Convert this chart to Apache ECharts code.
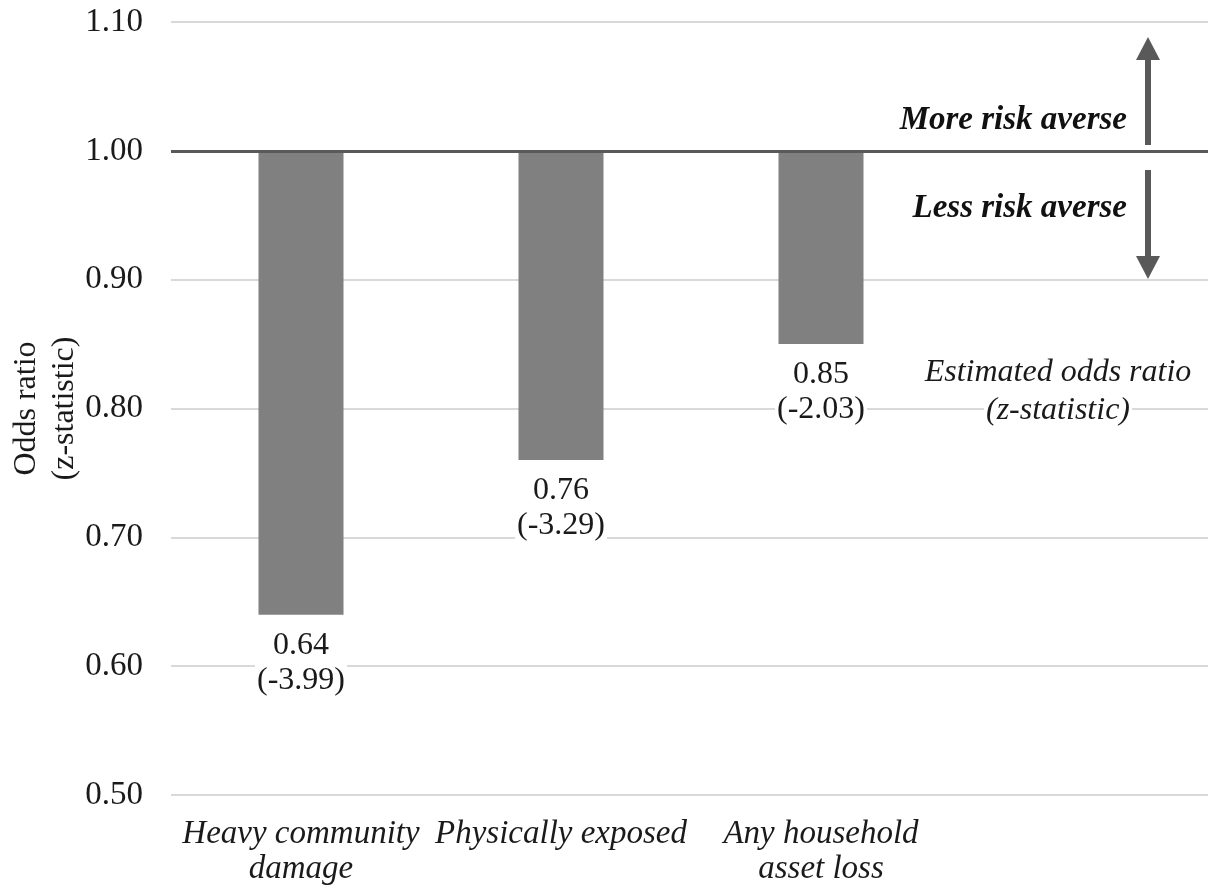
<!DOCTYPE html>
<html>
<head>
<meta charset="utf-8">
<title>Odds ratio by disaster exposure</title>
<script src="https://cdn.jsdelivr.net/npm/echarts@6/dist/echarts.min.js"></script>
<style>
  html, body { margin: 0; padding: 0; background: #ffffff; }
  #chart { width: 1208px; height: 886px; }
</style>
</head>
<body>
<div id="chart"></div>
<script>
// Exposure measures (fourth slot holds the annotation key)
const categories = ['Heavy community\ndamage', 'Physically exposed', 'Any household\nasset loss', ''];
// Estimated odds ratios and their z-statistics
const oddsRatios = [0.64, 0.76, 0.85];
const zStats = [-3.99, -3.29, -2.03];
// Odds ratio of 1 = no change in risk aversion
const baseline = 1.0;
const yTickLabels = ['0.50', '0.60', '0.70', '0.80', '0.90', '1.00', '1.10'];

const SERIF = "'Liberation Serif', 'Times New Roman', serif";
const chart = echarts.init(document.getElementById('chart'), null, { renderer: 'canvas' });

const barData = oddsRatios.map((v, i) => [i, v, zStats[i]]);

chart.setOption({
  animation: false,
  backgroundColor: '#ffffff',
  grid: { left: 171, right: -3, top: 22, bottom: 91, containLabel: false, outerBoundsMode: 'none' },
  xAxis: {
    type: 'category',
    data: categories,
    axisLine: { show: false },
    axisTick: { show: false },
    splitLine: { show: false },
    axisLabel: {
      interval: 0,
      margin: 22,
      color: '#1a1a1a',
      fontFamily: SERIF,
      fontStyle: 'italic',
      fontSize: 33,
      lineHeight: 35
    }
  },
  yAxis: {
    type: 'value',
    min: 0.5,
    max: 1.1,
    interval: 0.1,
    name: 'Odds ratio\n(z-statistic)',
    nameLocation: 'middle',
    nameRotate: 90,
    nameGap: 87,
    nameMoveOverlap: false,
    nameTextStyle: { fontFamily: SERIF, fontSize: 32, lineHeight: 38, color: '#1a1a1a' },
    axisLine: { show: false },
    axisTick: { show: false },
    axisLabel: {
      margin: 28,
      color: '#1a1a1a',
      fontFamily: SERIF,
      fontSize: 33,
      formatter: (v) => yTickLabels[Math.round((v - 0.5) * 10)] || v.toFixed(2)
    },
    splitLine: { show: true, lineStyle: { color: '#d9d9d9', width: 2 } }
  },
  series: [{
    type: 'custom',
    data: barData,
    encode: { x: 0, y: 1 },
    renderItem: function (params, api) {
      const i = api.value(0);
      const v = api.value(1);
      const z = api.value(2);
      const top = api.coord([i, baseline]);
      const bot = api.coord([i, v]);
      const w = api.size([1, 0])[0] * 0.327;
      const labelStyle = {
        fill: '#1a1a1a',
        fontFamily: SERIF,
        fontSize: 32,
        lineHeight: 35,
        align: 'center',
        verticalAlign: 'top',
        backgroundColor: '#ffffff',
        padding: [0, 2]
      };
      return {
        type: 'group',
        children: [
          {
            type: 'rect',
            shape: { x: top[0] - w / 2, y: top[1], width: w, height: bot[1] - top[1] },
            style: { fill: '#808080' }
          },
          {
            type: 'text',
            x: bot[0],
            y: bot[1] + 13,
            style: Object.assign({ text: v.toFixed(2) }, labelStyle)
          },
          {
            type: 'text',
            x: bot[0],
            y: bot[1] + 48,
            style: Object.assign({ text: '(' + z.toFixed(2) + ')' }, labelStyle)
          }
        ]
      };
    },
    markLine: {
      silent: true,
      symbol: 'none',
      label: { show: false },
      lineStyle: { color: '#595959', width: 3, type: 'solid' },
      data: [{ yAxis: baseline }],
      z: 10
    },
    z: 3
  }],
  graphic: [
    // Direction key beside the baseline
    {
      type: 'text', x: 1127, y: 120, z: 100,
      style: {
        text: 'More risk averse', fill: '#111111', fontFamily: SERIF,
        fontSize: 33, fontWeight: 'bold', fontStyle: 'italic',
        align: 'right', verticalAlign: 'middle'
      }
    },
    {
      type: 'text', x: 1127, y: 208, z: 100,
      style: {
        text: 'Less risk averse', fill: '#111111', fontFamily: SERIF,
        fontSize: 33, fontWeight: 'bold', fontStyle: 'italic',
        align: 'right', verticalAlign: 'middle'
      }
    },
    // Up arrow
    { type: 'rect', z: 100, shape: { x: 1145, y: 56, width: 6, height: 89 }, style: { fill: '#595959' } },
    { type: 'polygon', z: 100, shape: { points: [[1136, 60], [1160, 60], [1148, 37]] }, style: { fill: '#595959' } },
    // Down arrow
    { type: 'rect', z: 100, shape: { x: 1145, y: 170, width: 6, height: 90 }, style: { fill: '#595959' } },
    { type: 'polygon', z: 100, shape: { points: [[1136, 256], [1160, 256], [1148, 279]] }, style: { fill: '#595959' } },
    // Key for the bar labels
    {
      type: 'text', x: 1058, y: 373, z: 100,
      style: {
        text: 'Estimated odds ratio', fill: '#1a1a1a', fontFamily: SERIF,
        fontSize: 32, fontStyle: 'italic',
        align: 'center', verticalAlign: 'middle'
      }
    },
    {
      type: 'text', x: 1058, y: 411, z: 100,
      style: {
        text: '(z-statistic)', fill: '#1a1a1a', fontFamily: SERIF,
        fontSize: 32, fontStyle: 'italic',
        align: 'center', verticalAlign: 'middle',
        backgroundColor: '#ffffff', padding: [0, 2]
      }
    }
  ]
});
</script>
</body>
</html>
